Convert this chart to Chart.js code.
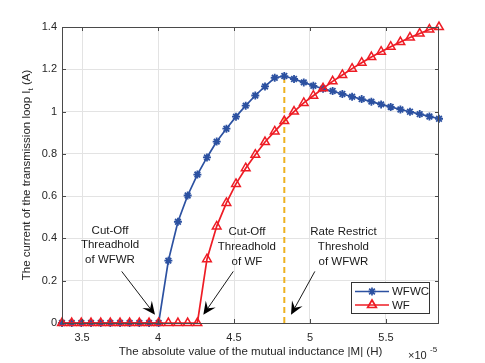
<!DOCTYPE html>
<html>
<head>
<meta charset="utf-8">
<script src="https://cdn.jsdelivr.net/npm/chart.js@4.4.1/dist/chart.umd.min.js"></script>
<style>
html,body{margin:0;padding:0;background:#fff;}
#wrap{width:485px;height:363px;}
</style>
</head>
<body>
<div id="wrap"><canvas id="c" width="485" height="363"></canvas></div>
<script>
// ---- data (x in units of 1e-5 H) ----
const mutualInductance = [3.368,3.432,3.495,3.559,3.623,3.686,3.750,3.813,3.877,3.941,
  4.004,4.068,4.131,4.195,4.259,4.322,4.386,4.450,4.513,4.577,
  4.640,4.704,4.768,4.831,4.895,4.959,5.022,5.086,5.149,5.213,
  5.277,5.340,5.404,5.468,5.531,5.595,5.658,5.722,5.786,5.849];
const wfwcCurrent = [0,0,0,0,0,0,0,0,0,0,
  0,0.295,0.479,0.603,0.702,0.783,0.858,0.919,0.976,1.028,
  1.076,1.119,1.160,1.168,1.154,1.138,1.122,1.108,1.097,1.083,
  1.070,1.059,1.047,1.034,1.022,1.010,0.999,0.988,0.977,0.966];
const wfCurrent = [0,0,0,0,0,0,0,0,0,0,
  0,0,0,0,0,0.302,0.457,0.568,0.658,0.732,
  0.796,0.856,0.906,0.955,1.000,1.041,1.075,1.110,1.143,1.173,
  1.203,1.231,1.258,1.283,1.307,1.329,1.350,1.369,1.388,1.400];
const thresholdX = [4.831, 4.831];
const thresholdY = [0, 1.168];
const xTicks = [3.5, 4, 4.5, 5, 5.5];
const yTicks = [0, 0.2, 0.4, 0.6, 0.8, 1, 1.2, 1.4];
const seriesNames = ['WFWC', 'WF'];
const annotationLines = [
  ['Cut-Off', 'Threadhold', 'of WFWR'],
  ['Cut-Off', 'Threadhold', 'of WF'],
  ['Rate Restrict', 'Threshold', 'of WFWR']
];

// ---- presentation ----
const FONT = '"Liberation Sans", Arial, Helvetica, sans-serif';
const BLUE = '#2c51a1';
const RED = '#ee1c25';
const ORANGE = '#edb120';
const annotPlace = [
  {tx: 3.684, ty: 0.438, ax0: 3.761, ay0: 0.244, ax1: 3.980, ay1: 0.039},
  {tx: 4.585, ty: 0.429, ax0: 4.495, ay0: 0.244, ax1: 4.298, ay1: 0.039},
  {tx: 5.220, ty: 0.429, ax0: 5.032, ay0: 0.244, ax1: 4.875, ay1: 0.039}
];

const pts = (xs, ys) => xs.map((x, i) => ({x: x, y: ys[i]}));

function arrow(ctx, x0, y0, x1, y1) {
  const ang = Math.atan2(y1 - y0, x1 - x0);
  const L = 13, W = 6, notch = 8;
  ctx.save();
  ctx.strokeStyle = '#000'; ctx.fillStyle = '#000'; ctx.lineWidth = 0.9;
  ctx.beginPath(); ctx.moveTo(x0, y0);
  ctx.lineTo(x1 - Math.cos(ang) * notch, y1 - Math.sin(ang) * notch); ctx.stroke();
  const c = Math.cos(ang), s = Math.sin(ang);
  ctx.beginPath();
  ctx.moveTo(x1, y1);
  ctx.lineTo(x1 - c * L + s * W, y1 - s * L - c * W);
  ctx.lineTo(x1 - c * notch, y1 - s * notch);
  ctx.lineTo(x1 - c * L - s * W, y1 - s * L + c * W);
  ctx.closePath(); ctx.fill();
  ctx.restore();
}

const decor = {
  id: 'decor',
  afterDraw(chart) {
    const ctx = chart.ctx, a = chart.chartArea;
    const xs = chart.scales.x, ys = chart.scales.y;
    ctx.save();
    // frame
    ctx.strokeStyle = '#4a4a4a'; ctx.lineWidth = 1;
    ctx.strokeRect(Math.round(a.left) + 0.5, Math.round(a.top) + 0.5,
      Math.round(a.right - a.left) - 1, Math.round(a.bottom - a.top));
    // inward ticks
    ctx.beginPath();
    xTicks.forEach(v => {
      const px = Math.round(xs.getPixelForValue(v)) + 0.5;
      ctx.moveTo(px, a.bottom); ctx.lineTo(px, a.bottom - 4);
      ctx.moveTo(px, a.top); ctx.lineTo(px, a.top + 4);
    });
    yTicks.forEach(v => {
      const py = Math.round(ys.getPixelForValue(v)) + 0.5;
      ctx.moveTo(a.left, py); ctx.lineTo(a.left + 4, py);
      ctx.moveTo(a.right, py); ctx.lineTo(a.right - 4, py);
    });
    ctx.stroke();

    // axis titles
    ctx.fillStyle = '#262626';
    ctx.font = '11.5px ' + FONT;
    ctx.textBaseline = 'middle'; ctx.textAlign = 'center';
    ctx.fillText('The absolute value of the mutual inductance |M| (H)', (a.left + a.right) / 2, 352);
    // exponent
    ctx.textAlign = 'left';
    ctx.font = '11px ' + FONT;
    ctx.fillText('\u00d710', 408, 356);
    ctx.font = '8px ' + FONT;
    ctx.fillText('-5', 430, 350);

    // y title with subscript
    ctx.save();
    ctx.translate(27, (a.top + a.bottom) / 2);
    ctx.rotate(-Math.PI / 2);
    ctx.font = '11.5px ' + FONT;
    const p1 = 'The current of the transmission loop I', p2 = 't', p3 = ' (A)';
    const w1 = ctx.measureText(p1).width, w3 = ctx.measureText(p3).width;
    ctx.font = '8px ' + FONT;
    const w2 = ctx.measureText(p2).width;
    const tot = w1 + w2 + w3;
    let x = -tot / 2;
    ctx.textAlign = 'left';
    ctx.font = '11.5px ' + FONT; ctx.fillText(p1, x, 0); x += w1;
    ctx.font = '8px ' + FONT; ctx.fillText(p2, x, 4); x += w2;
    ctx.font = '11.5px ' + FONT; ctx.fillText(p3, x, 0);
    ctx.restore();

    // annotations
    ctx.fillStyle = '#1a1a1a';
    ctx.font = '11.5px ' + FONT;
    ctx.textAlign = 'center'; ctx.textBaseline = 'middle';
    annotationLines.forEach((lines, k) => {
      const p = annotPlace[k];
      const tx = xs.getPixelForValue(p.tx), ty = ys.getPixelForValue(p.ty);
      lines.forEach((ln, j) => ctx.fillText(ln, tx, ty + j * 14.7));
      arrow(ctx, xs.getPixelForValue(p.ax0), ys.getPixelForValue(p.ay0),
        xs.getPixelForValue(p.ax1), ys.getPixelForValue(p.ay1));
    });

    // legend
    const lx = 351, ly = 282, lw = 78, lh = 31;
    ctx.fillStyle = '#fff';
    ctx.fillRect(lx, ly, lw, lh);
    ctx.strokeStyle = '#333'; ctx.lineWidth = 1;
    ctx.strokeRect(lx + 0.5, ly + 0.5, lw, lh);
    const rows = [{y: 291.5, color: BLUE, style: 'star', r: 4, name: seriesNames[0]},
                  {y: 305, color: RED, style: 'triangle', r: 5, name: seriesNames[1]}];
    rows.forEach(rw => {
      ctx.strokeStyle = rw.color; ctx.lineWidth = 1.7;
      ctx.beginPath(); ctx.moveTo(355, rw.y); ctx.lineTo(389, rw.y); ctx.stroke();
      ctx.fillStyle = 'rgba(0,0,0,0)';
      Chart.helpers.drawPoint(ctx, {pointStyle: rw.style, radius: rw.r, borderWidth: 1.6, rotation: 0}, 372, rw.y);
      ctx.fillStyle = '#1a1a1a';
      ctx.font = '11.5px ' + FONT; ctx.textAlign = 'left'; ctx.textBaseline = 'middle';
      ctx.fillText(rw.name, 392, rw.y + 0.5);
    });
    ctx.restore();
  }
};

new Chart(document.getElementById('c'), {
  type: 'line',
  data: {
    datasets: [
      {
        label: seriesNames[0], data: pts(mutualInductance, wfwcCurrent),
        borderColor: BLUE, backgroundColor: BLUE, borderWidth: 1.7,
        pointStyle: 'star', pointRadius: 4, pointBorderWidth: 1.8,
        pointBorderColor: BLUE, pointBackgroundColor: BLUE,
        clip: false, order: 1, tension: 0
      },
      {
        label: seriesNames[1], data: pts(mutualInductance, wfCurrent),
        borderColor: RED, backgroundColor: 'rgba(0,0,0,0)', borderWidth: 1.7,
        pointStyle: 'triangle', pointRadius: 5, pointBorderWidth: 1.5,
        pointBorderColor: RED, pointBackgroundColor: 'rgba(0,0,0,0)',
        clip: false, order: 0, tension: 0
      },
      {
        label: 'threshold', data: pts(thresholdX, thresholdY),
        borderColor: ORANGE, borderWidth: 2, borderDash: [6, 4],
        pointRadius: 0, clip: false, order: 2
      }
    ]
  },
  options: {
    responsive: false, animation: false, devicePixelRatio: 1,
    layout: {padding: {top: 27, right: 46, left: 0, bottom: 0}},
    plugins: {legend: {display: false}, tooltip: {enabled: false}},
    scales: {
      x: {
        type: 'linear', min: 3.368, max: 5.849,
        afterBuildTicks: s => { s.ticks = xTicks.map(v => ({value: v})); },
        afterFit: s => { s.height = 40; },
        grid: {color: '#e3e3e3', drawTicks: false, lineWidth: 1},
        border: {display: false},
        ticks: {padding: 8, color: '#262626', font: {family: FONT, size: 11},
          callback: v => String(v)}
      },
      y: {
        type: 'linear', min: 0, max: 1.4,
        afterBuildTicks: s => { s.ticks = yTicks.map(v => ({value: v})); },
        afterFit: s => { s.width = 62; },
        grid: {color: '#e3e3e3', drawTicks: false, lineWidth: 1},
        border: {display: false},
        ticks: {padding: 5, color: '#262626', font: {family: FONT, size: 11},
          callback: v => String(Number(v.toFixed(1)))}
      }
    }
  },
  plugins: [decor]
});
</script>
</body>
</html>
